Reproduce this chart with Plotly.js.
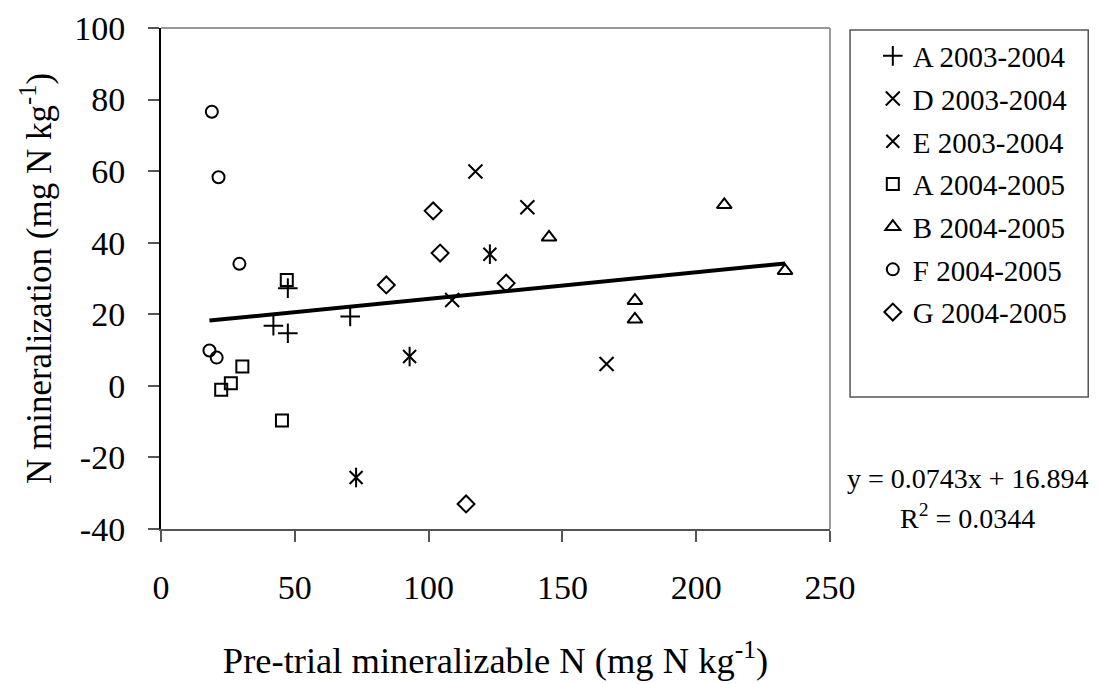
<!DOCTYPE html>
<html>
<head>
<meta charset="utf-8">
<script src="https://cdn.plot.ly/plotly-3.0.1.min.js"></script>
<style>html,body{margin:0;padding:0;background:#fff;}#chart{width:1099px;height:684px;}</style>
</head>
<body>
<div id="chart"></div>
<script>
// ---- data ----
const seriesNames = ["A 2003-2004", "D 2003-2004", "E 2003-2004", "A 2004-2005", "B 2004-2005", "F 2004-2005", "G 2004-2005"];

const xA0304 = [47.4, 70.7, 42.0, 47.4];
const yA0304 = [27.3, 19.4, 16.8, 14.7];

const xD0304 = [117.5, 108.8, 136.9, 166.5];
const yD0304 = [59.9, 24.0, 49.9, 6.1];

const xE0304 = [122.9, 92.9, 72.9];
const yE0304 = [36.8, 8.2, -25.6];

const xA0405 = [47.0, 30.4, 26.1, 22.5, 45.2];
const yA0405 = [29.6, 5.4, 0.7, -1.1, -9.7];

const xB0405 = [145.0, 210.5, 233.2, 177.1, 177.1];
const yB0405 = [41.5, 50.6, 32.2, 23.8, 18.6];

const xF0405 = [19.0, 21.5, 29.3, 18.1, 20.8];
const yF0405 = [76.6, 58.3, 34.1, 9.9, 7.9];

const xG0405 = [101.7, 104.3, 84.2, 129.0, 114.0];
const yG0405 = [48.9, 37.1, 28.2, 28.7, -33.0];

const trendSlope = 0.0743;
const trendIntercept = 16.894;
const rSquared = 0.0344;

const xTickVals = [0, 50, 100, 150, 200, 250];
const xTickText = ["0", "50", "100", "150", "200", "250"];
const yTickVals = [-40, -20, 0, 20, 40, 60, 80, 100];
const yTickText = ["-40", "-20", "0", "20", "40", "60", "80", "100"];

// ---- build ----
const FONT = "Liberation Serif";
const allX = [].concat(xA0304, xD0304, xE0304, xA0405, xB0405, xF0405, xG0405);
const xMin = Math.min.apply(null, allX), xMax = Math.max.apply(null, allX);
const trendX = [xMin, xMax];
const trendY = trendX.map(v => trendSlope * v + trendIntercept);

function sc(name, x, y, symbol, size, group, showlegend) {
  return {
    type: "scatter", mode: "markers", name: name, x: x, y: y,
    legendgroup: group, showlegend: showlegend !== false,
    marker: {symbol: symbol, size: size, color: "#000", line: {color: "#000", width: 2}},
    hoverinfo: "x+y"
  };
}

const traces = [
  sc(seriesNames[0], xA0304, yA0304, "cross-thin-open", 14, "g0"),
  sc(seriesNames[1], xD0304, yD0304, "x-thin-open", 14, "g1"),
  sc(seriesNames[2], xE0304, yE0304, "x-thin-open", 13, "g2"),
  sc(seriesNames[2], xE0304, yE0304, "line-ns-open", 14, "g2", false),
  sc(seriesNames[3], xA0405, yA0405, "square-open", 12, "g3"),
  sc(seriesNames[4], xB0405, yB0405, "triangle-up-open", 13, "g4"),
  sc(seriesNames[5], xF0405, yF0405, "circle-open", 12, "g5"),
  sc(seriesNames[6], xG0405, yG0405, "diamond-open", 13, "g6"),
  {type: "scatter", mode: "lines", x: trendX, y: trendY, showlegend: false,
   line: {color: "#000", width: 4}, hoverinfo: "skip"}
];

const layout = {
  width: 1099, height: 684,
  paper_bgcolor: "#fff", plot_bgcolor: "#fff",
  margin: {l: 161, r: 269, t: 28, b: 155},
  font: {family: FONT, color: "#000", size: 34},
  showlegend: true,
  legend: {
    x: 1.064, y: 0.995, xanchor: "left", yanchor: "top",
    bgcolor: "rgba(0,0,0,0)", borderwidth: 0,
    font: {family: FONT, size: 29, color: "#000"},
    tracegroupgap: 2, itemwidth: 30
  },
  xaxis: {
    range: [0, 250], tickvals: xTickVals, ticktext: xTickText,
    showgrid: false, zeroline: false,
    showline: true, linecolor: "#555", linewidth: 2,
    ticks: "outside", ticklen: 11, tickcolor: "#555", tickwidth: 2,
    ticklabelstandoff: 16,
    tickfont: {family: FONT, size: 34, color: "#000"},
    title: {text: "Pre-trial mineralizable N (mg N kg<sup>-1</sup>)", font: {family: FONT, size: 36.5, color: "#000"}, standoff: 43}
  },
  yaxis: {
    range: [-40, 100], tickvals: yTickVals, ticktext: yTickText,
    showgrid: false, zeroline: false,
    showline: true, linecolor: "#000", linewidth: 2,
    ticks: "outside", ticklen: 11, tickcolor: "#555", tickwidth: 2,
    ticklabelstandoff: 16,
    tickfont: {family: FONT, size: 34, color: "#000"},
    title: {text: "N mineralization (mg N kg<sup>-1</sup>)", font: {family: FONT, size: 35, color: "#000"}, standoff: 12}
  },
  shapes: [
    {type: "line", xref: "paper", yref: "paper", x0: 0, x1: 1, y0: 1, y1: 1, line: {color: "#999", width: 2}},
    {type: "line", xref: "paper", yref: "paper", x0: 1, x1: 1, y0: 0, y1: 1, line: {color: "#999", width: 2}},
    {type: "rect", xref: "paper", yref: "paper", x0: 1.030, x1: 1.386, y0: 0.2635, y1: 0.996, line: {color: "#555", width: 1.5}, fillcolor: "rgba(0,0,0,0)"}
  ],
  annotations: [
    {xref: "paper", yref: "paper", x: 1.206, y: 0.10, xanchor: "center", yanchor: "middle", showarrow: false,
     text: "y = " + trendSlope + "x + " + trendIntercept, font: {family: FONT, size: 28, color: "#000"}},
    {xref: "paper", yref: "paper", x: 1.206, y: 0.024, xanchor: "center", yanchor: "middle", showarrow: false,
     text: "R<sup>2</sup> = " + rSquared, font: {family: FONT, size: 28, color: "#000"}}
  ]
};

Plotly.newPlot("chart", traces, layout, {displayModeBar: false, staticPlot: true});
</script>
</body>
</html>
